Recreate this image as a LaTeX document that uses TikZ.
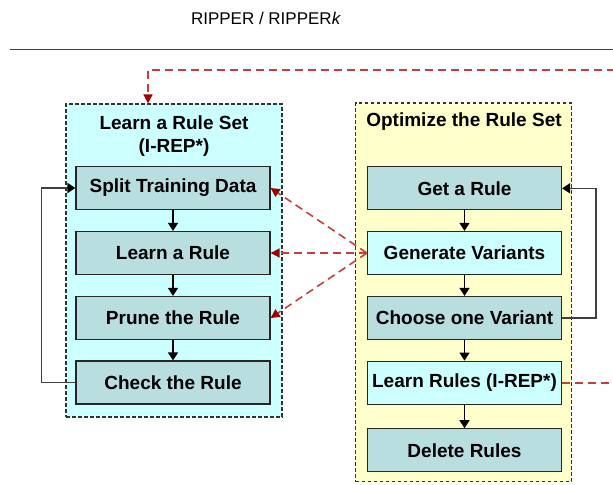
\documentclass[tikz,border=0pt]{standalone}
\usepackage{fontspec}
\setmainfont{Liberation Sans}
\usetikzlibrary{arrows.meta}
\definecolor{panelcyan}{RGB}{204,255,255}
\definecolor{panelyellow}{RGB}{255,255,204}
\definecolor{boxteal}{RGB}{184,222,224}
\definecolor{linkred}{RGB}{196,64,64}
\definecolor{tipred}{RGB}{160,0,0}

\begin{document}
\begin{tikzpicture}[x=0.5pt,y=-0.5pt,
    panel/.style={draw=black!80, dash pattern=on 1.8pt off 1.2pt, line width=0.6pt, inner sep=0pt},
    stepbox/.style={draw=black!85, line width=0.6pt, fill=boxteal, minimum width=97pt, minimum height=21.5pt, inner sep=0pt, font=\fontsize{9.5}{11}\selectfont\bfseries},
    flow/.style={-{Triangle[length=4pt,width=5pt]}, line width=0.6pt},
    feedback/.style={draw=black!75, line width=0.8pt, -{Triangle[length=4pt,width=5pt,color=black]}},
    variant/.style={linkred, line width=0.8pt, dash pattern=on 4pt off 2.5pt, -{Triangle[length=4.5pt,width=4.5pt,color=tipred]}}]
        \useasboundingbox (0,0) rectangle (613,484);
        \clip (0,0) rectangle (613,484);
        \node [font=\fontsize{8.5}{10}\selectfont] (title) at (266,18.5) {RIPPER / RIPPER\textit{k}};
        \draw[line width=0.8pt, black!75] (10,49.5) -- (613,49.5);
        \node [panel, fill=panelcyan, minimum width=108pt, minimum height=156.5pt] (learnset) at (174,260.5) {};
        \node [panel, fill=panelyellow, minimum width=108pt, minimum height=189.3pt] (optset) at (463.7,292.3) {};
        \node [align=center, font=\fontsize{9.5}{11.5}\selectfont\bfseries] (learnsettitle) at (174,136.5) {Learn a Rule Set\\(I-REP*)};
        \node [font=\fontsize{9.5}{11}\selectfont\bfseries] (optsettitle) at (464,122) {Optimize the Rule Set};
        \node [stepbox] (split) at (173,188) {Split Training Data};
        \node [stepbox] (learn) at (173,253) {Learn a Rule};
        \node [stepbox] (prune) at (173,318) {Prune the Rule};
        \node [stepbox] (check) at (173,382.5) {Check the Rule};
        \node [stepbox] (getrule) at (464.5,188.3) {Get a Rule};
        \node [stepbox, fill=panelcyan] (generate) at (464.5,253) {Generate Variants};
        \node [stepbox] (choose) at (464.5,318) {Choose one Variant};
        \node [stepbox, fill=panelcyan] (lrules) at (464.5,382.7) {Learn Rules (I-REP*)};
        \node [stepbox] (delete) at (464.5,450.3) {Delete Rules};
        \draw[flow] (split) -- (learn);
        \draw[flow] (learn) -- (prune);
        \draw[flow] (prune) -- (check);
        \draw[flow] (getrule) -- (generate);
        \draw[flow] (generate) -- (choose);
        \draw[flow] (choose) -- (lrules);
        \draw[flow] (lrules) -- (delete);
        \draw[feedback] (check.west) -- ++(-34,0) |- (split.west);
        \draw[feedback] (choose.east) -- ++(34,0) |- (getrule.east);
        \draw[variant] (generate.west) -- (split.east);
        \draw[variant] (generate.west) -- (learn.east);
        \draw[variant] (generate.west) -- (prune.east);
        \coordinate (farright) at (640,70);
        \coordinate (entry) at ([xshift=-13pt]learnset.north);
        \draw[variant] (lrules.east) -| (farright) -| (entry);
    \end{tikzpicture}
\end{document}
